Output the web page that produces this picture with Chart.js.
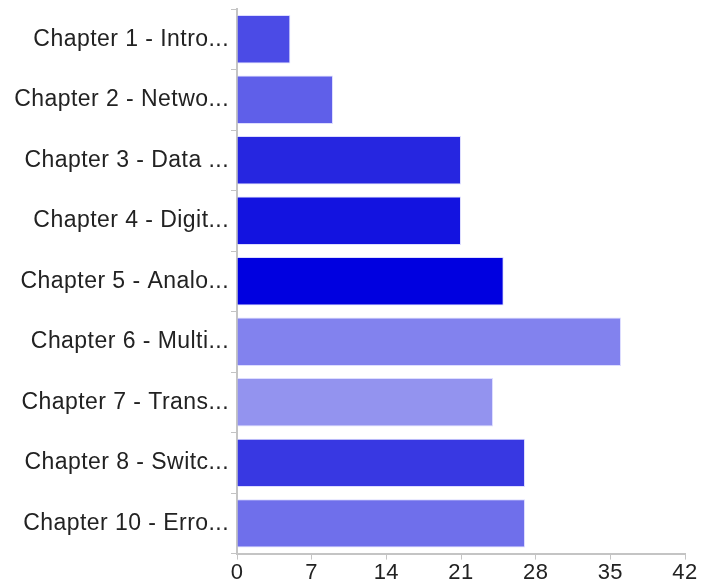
<!DOCTYPE html>
<html>
<head>
<meta charset="utf-8">
<script src="https://cdn.jsdelivr.net/npm/chart.js@4/dist/chart.umd.min.js"></script>
<style>
  html, body { margin: 0; padding: 0; background: #ffffff; }
  #wrap { width: 701px; height: 586px; }
</style>
</head>
<body>
<div id="wrap"><canvas id="chart" width="701" height="586"></canvas></div>
<script>
// Chapter names (shortened as displayed on the axis)
const chapters = [
  'Chapter 1 - Intro...',
  'Chapter 2 - Netwo...',
  'Chapter 3 - Data ...',
  'Chapter 4 - Digit...',
  'Chapter 5 - Analo...',
  'Chapter 6 - Multi...',
  'Chapter 7 - Trans...',
  'Chapter 8 - Switc...',
  'Chapter 10 - Erro...'
];

// Count per chapter
const counts = [5, 9, 21, 21, 25, 36, 24, 27, 27];

// One shade of blue per chapter
const barColors = [
  '#4b4be6', '#5f5fe9', '#2626e0', '#1313e0', '#0000e0',
  '#8282ee', '#9393ef', '#3838e2', '#6f6feb'
];

// Value axis ticks
const xTicks = [0, 7, 14, 21, 28, 35, 42];

const axisGrey = '#c4c4c4';
const fontFamily = '"Liberation Sans", Arial, Helvetica, sans-serif';

// Slightly looser text tracking on the canvas
const tracking = {
  id: 'tracking',
  beforeLayout(chart) { chart.ctx.letterSpacing = '0.45px'; },
  beforeDraw(chart) { chart.ctx.letterSpacing = '0.45px'; }
};

new Chart(document.getElementById('chart'), {
  type: 'bar',
  data: {
    labels: chapters,
    datasets: [{
      data: counts,
      backgroundColor: barColors,
      borderColor: 'rgba(215,215,255,0.85)',
      borderWidth: 1,
      barPercentage: 1.0,
      categoryPercentage: 0.8
    }]
  },
  plugins: [tracking],
  options: {
    indexAxis: 'y',
    responsive: false,
    animation: false,
    layout: { padding: { top: 9, right: 16, left: 0, bottom: 0 } },
    plugins: {
      legend: { display: false },
      tooltip: { enabled: false }
    },
    scales: {
      x: {
        min: 0,
        max: 42,
        afterBuildTicks: (axis) => { axis.ticks = xTicks.map(v => ({ value: v })); },
        border: { display: true, color: axisGrey, width: 2 },
        grid: { drawOnChartArea: false, drawTicks: true, tickLength: 6, color: axisGrey },
        ticks: { color: '#222222', font: { family: fontFamily, size: 22 }, padding: 0, maxRotation: 0 }
      },
      y: {
        afterFit: (axis) => {
          axis.width = 237;
          axis.paddingTop = 0;
          axis.paddingBottom = 0;
        },
        border: { display: true, color: axisGrey, width: 2 },
        grid: { drawOnChartArea: false, drawTicks: true, tickLength: 6, color: axisGrey },
        ticks: { color: '#222222', font: { family: fontFamily, size: 23 }, padding: 2, autoSkip: false }
      }
    }
  }
});
</script>
</body>
</html>
